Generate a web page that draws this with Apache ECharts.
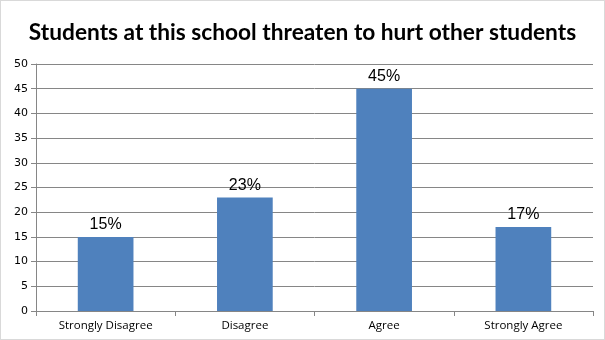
<!DOCTYPE html>
<html><head><meta charset="utf-8">
<script src="https://cdn.jsdelivr.net/npm/echarts@6/dist/echarts.min.js"></script>
<style>html,body{margin:0;padding:0;background:#fff}#c{width:605px;height:340px;box-sizing:border-box;border:1px solid #d9d9d9}</style>
</head><body><div id="c"></div>
<script>
var categories = ['Strongly Disagree', 'Disagree', 'Agree', 'Strongly Agree'];
var values = [15, 23, 45, 17];
var labels = ['15%', '23%', '45%', '17%'];
var titleText = 'Students at this school threaten to hurt other students';

var chart = echarts.init(document.getElementById('c'));
chart.setOption({
  animation: false,
  title: {text: titleText, left: 'center', top: 15,
    textStyle: {fontFamily: 'Lato', fontWeight: 'bold', fontSize: 22.7, color: '#000'}},
  grid: {left: 35, right: 11, top: 63, bottom: 28, containLabel: false},
  xAxis: {type: 'category', data: categories,
    axisLine: {lineStyle: {color: '#868686'}},
    axisTick: {show: true, alignWithLabel: false, length: 5, lineStyle: {color: '#868686'}},
    axisLabel: {color: '#000', fontFamily: 'Open Sans', fontSize: 11.5, margin: 9}},
  yAxis: {type: 'value', min: 0, max: 50, interval: 5,
    axisLine: {show: true, lineStyle: {color: '#868686'}},
    axisTick: {show: true, length: 5, lineStyle: {color: '#868686'}},
    splitLine: {lineStyle: {color: '#868686'}},
    axisLabel: {color: '#000', fontFamily: 'DejaVu Sans', fontSize: 11, margin: 8}},
  series: [{type: 'bar', data: values, barWidth: '40%',
    itemStyle: {color: '#4F81BD'},
    label: {show: true, position: 'top', distance: 4, color: '#000', fontFamily: 'Liberation Sans', fontSize: 16,
      formatter: function(p){ return labels[p.dataIndex]; }}}]
});
</script></body></html>
